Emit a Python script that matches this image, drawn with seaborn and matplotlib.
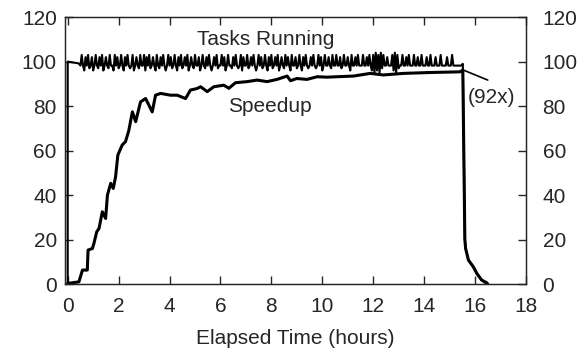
import matplotlib
matplotlib.use('Agg')
import matplotlib.pyplot as plt
import seaborn as sns
import pandas as pd

# speedup curve (hours, x)
speed_t = [0, 0.44, 0.58, 0.77, 0.8, 0.97, 1.03, 1.14, 1.23, 1.36, 1.49, 1.56, 1.69, 1.79,
           1.88, 1.97, 2.14, 2.27, 2.4, 2.54, 2.67, 2.86, 3.06, 3.19, 3.32, 3.45, 3.65, 4.04,
           4.3, 4.63, 4.82, 5.08, 5.22, 5.48, 5.74, 6.13, 6.33, 6.59, 7.05, 7.44, 7.83, 8.22,
           8.62, 8.75, 9.0, 9.4, 9.8, 10.18, 10.58, 11.23, 11.88, 12.4, 13.19, 14.24, 15.41,
           15.52, 15.6, 15.63, 15.74, 15.93, 16.07, 16.26, 16.46, 16.5]
speed_v = [0.3, 1, 6.3, 6.3, 15.3, 16, 18.3, 23.5, 25, 32.5, 29.5, 40, 45.3, 43,
           48.2, 58, 62.5, 64, 69, 77.4, 73, 81.9, 83.4, 80.4, 77.4, 84.9, 85.7, 84.9,
           84.9, 83.4, 87.2, 87.9, 88.7, 86.5, 88.7, 89.4, 88, 90.5, 91, 91.7, 91, 92,
           93.5, 91.4, 92.4, 92, 93.2, 93, 93.2, 93.5, 94.7, 94, 94.7, 95.1, 95.4,
           96.2, 20, 16, 10.8, 7.8, 4.8, 1.8, 0.6, 0]

# tasks running, sampled every 0.05 h from 0.5 h to 15.45 h (one row per hour)
tasks_start, tasks_step = 0.5, 0.05
tasks_v = [99, 103, 99, 96, 102, 99, 103, 97, 99, 102, 96, 99, 103, 99, 97, 102, 99, 103, 96, 99,
           102, 99, 97, 103, 99, 99, 96, 103, 99, 102, 97, 99, 103, 99, 96, 102, 99, 103, 99, 97,
           99, 103, 96, 99, 102, 99, 97, 103, 99, 99, 103, 96, 102, 99, 103, 97, 99, 102, 99, 96,
           103, 99, 97, 102, 99, 103, 99, 96, 99, 103, 99, 102, 97, 99, 103, 99, 96, 102, 99, 103,
           97, 99, 102, 99, 103, 96, 99, 102, 99, 97, 103, 99, 99, 102, 96, 99, 103, 99, 97, 102,
           99, 103, 99, 96, 99, 102, 99, 103, 97, 99, 99, 103, 99, 102, 96, 99, 103, 99, 99, 97,
           102, 99, 103, 99, 97, 99, 103, 96, 102, 99, 99, 103, 97, 99, 102, 99, 103, 99, 96, 99,
           103, 99, 102, 97, 99, 103, 99, 96, 102, 99, 103, 97, 99, 102, 99, 103, 96, 99, 102, 99,
           97, 103, 99, 102, 99, 96, 103, 99, 99, 102, 97, 99, 103, 99, 96, 102, 99, 103, 99, 97,
           99, 102, 99, 103, 99, 97, 99, 103, 99, 102, 96, 99, 103, 99, 99, 102, 99, 97, 103, 99,
           99, 103, 99, 99, 102, 97, 99, 103, 99, 99, 102, 99, 96, 103, 99, 99, 102, 99, 103, 99,
           99, 99, 103, 99, 99, 102, 99, 103, 99, 96, 103, 95, 104, 96, 103, 95, 104, 97, 103, 99,
           99, 102, 99, 99, 99, 103, 96, 104, 95, 103, 97, 99, 99, 103, 99, 99, 102, 99, 103, 99,
           99, 99, 103, 99, 99, 102, 99, 99, 103, 99, 99, 99, 102, 99, 99, 103, 99, 99, 99, 102,
           99, 99, 99, 103, 99, 99, 99, 99, 102, 99, 99, 99, 103, 99, 99, 99, 99, 99, 99, 99]
tasks_head_t = [0.0, 0.0, 0.43]
tasks_head_v = [0, 100, 99.2]
tasks_tail_t = [15.52, 15.6, 15.63, 15.74, 15.93, 16.07, 16.26, 16.46]
tasks_tail_v = [99, 20, 16, 10.8, 7.8, 4.8, 1.8, 0]

x_ticks = [0, 2, 4, 6, 8, 10, 12, 14, 16, 18]
y_ticks = [0, 20, 40, 60, 80, 100, 120]

tasks_t = tasks_head_t + [tasks_start + i * tasks_step for i in range(len(tasks_v))] + tasks_tail_t
tasks_all = tasks_head_v + [v - 0.8 if v == 99 else v for v in tasks_v] + tasks_tail_v
tasks = pd.DataFrame({'t': tasks_t, 'v': tasks_all})
speed = pd.DataFrame({'t': speed_t, 'v': speed_v})

sns.set_style('ticks')
plt.rcParams['font.family'] = ['Liberation Sans', 'DejaVu Sans']
fs = 15

fig = plt.figure(figsize=(5.87, 3.49), dpi=100)
ax = fig.add_axes([0.111, 0.186, 0.785, 0.765])

sns.lineplot(data=tasks, x='t', y='v', sort=False, estimator=None, color='black', lw=1.5, ax=ax)
sns.lineplot(data=speed, x='t', y='v', sort=False, estimator=None, color='black', lw=2.2, ax=ax)

# annotation for final speedup
ax.plot([15.54, 16.5], [96.2, 91.7], color='black', lw=1.2)
ax.text(16.65, 84, '(92x)', ha='center', va='center', fontsize=fs)
ax.text(7.76, 109.9, 'Tasks Running', ha='center', va='center', fontsize=fs)
ax.text(7.96, 79.7, 'Speedup', ha='center', va='center', fontsize=fs)

ax.set_xlim(-0.1, 18)
ax.set_ylim(0, 120)
ax.set_xticks(x_ticks)
ax.set_yticks(y_ticks)
ax.set_xlabel('Elapsed Time (hours)', fontsize=fs, labelpad=10)
ax.set_ylabel('')
ax.tick_params(direction='in', length=6, width=1, top=True, right=True, labelsize=fs)
ax.tick_params(axis='x', pad=9)
ax.tick_params(axis='y', pad=6)
for s in ax.spines.values():
    s.set_visible(True)
    s.set_linewidth(1)

ax2 = ax.twinx()
ax2.set_ylim(0, 120)
ax2.set_yticks(y_ticks)
ax2.tick_params(direction='in', length=6, width=1, labelsize=fs, pad=12)

fig.savefig('out.png', dpi=100)
